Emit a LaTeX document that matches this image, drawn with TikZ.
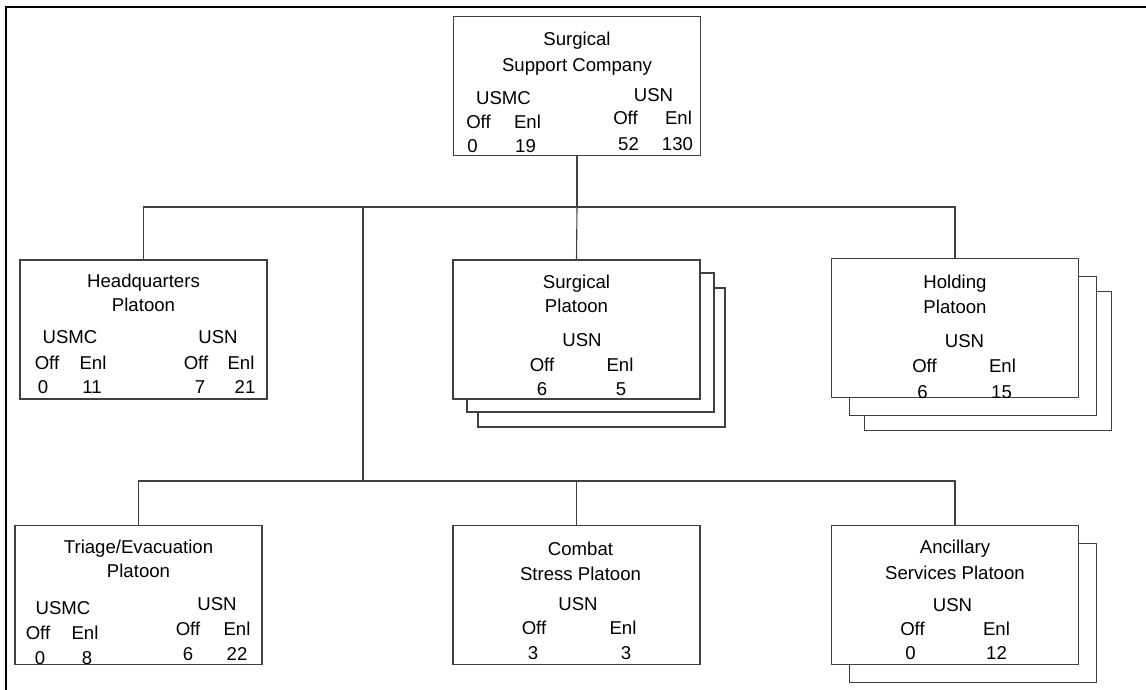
\documentclass[tikz,border=0pt]{standalone}
\usepackage{fontspec}
\setmainfont{Liberation Sans}
\usetikzlibrary{positioning, calc, backgrounds}

\begin{document}
\begin{tikzpicture}[
    x=0.5pt, y=-0.5pt,
    unit/.style={rectangle, draw=black!75, fill=white, line width=0.55pt, minimum width=123.5pt, minimum height=69.5pt, inner sep=0pt, outer sep=0pt},
    cell/.style={inner sep=0pt, text height=6.6pt, text depth=0pt, font=\fontsize{9.3}{11}\selectfont},
    link/.style={draw=black!75, line width=0.55pt},
    frame/.style={draw=black, line width=0.9pt}
]
    \useasboundingbox (0,0) rectangle (1146,690);
    \draw[frame] (6,690) -- (6,7) -- (1146,7);

    % Company
    \node [unit] (top) at (577,86) {};
    \node [cell] (top-t1) at ($(top.north)+(0,22)$) {Surgical};
    \node [cell] (top-t2) at ($(top.north)+(0,48)$) {Support Company};
    \foreach \dx/\dy/\txt [count=\i] in {50/81/USMC, 25/105/Off, 74/105/Enl, 19/129/0, 72/129/19, 200/78/USN, 172/101/Off, 225/101/Enl, 175/127/52, 224/127/130}
        \node [cell] (top-\i) at ($(top.north west)+(\dx,\dy)$) {\txt};

    % First row of platoons
    \node [unit] (hq) at (143.5,329.5) {};
    \node [cell] (hq-t1) at ($(hq.north)+(0,21)$) {Headquarters};
    \node [cell] (hq-t2) at ($(hq.north)+(0,45)$) {Platoon};
    \foreach \dx/\dy/\txt [count=\i] in {50/77/USMC, 27/103/Off, 73/103/Enl, 23/127/0, 72/127/11, 198/77/USN, 176/103/Off, 221/103/Enl, 180/127/7, 225/127/21}
        \node [cell] (hq-\i) at ($(hq.north west)+(\dx,\dy)$) {\txt};

    \node [unit] (surg) at (576.5,329.5) {};
    \node [cell] (surg-t1) at ($(surg.north)+(0,22)$) {Surgical};
    \node [cell] (surg-t2) at ($(surg.north)+(0,46)$) {Platoon};
    \foreach \dx/\dy/\txt [count=\i] in {129/80/USN, 89/105/Off, 167/105/Enl, 89/129/6, 168/129/5}
        \node [cell] (surg-\i) at ($(surg.north west)+(\dx,\dy)$) {\txt};

    \node [unit] (hold) at (955,328) {};
    \node [cell] (hold-t1) at ($(hold.north)+(0,23)$) {Holding};
    \node [cell] (hold-t2) at ($(hold.north)+(0,48)$) {Platoon};
    \foreach \dx/\dy/\txt [count=\i] in {133/82/USN, 93/107/Off, 171/107/Enl, 91/133/6, 170/133/15}
        \node [cell] (hold-\i) at ($(hold.north west)+(\dx,\dy)$) {\txt};

    % Second row of platoons
    \node [unit] (triage) at (138.5,595) {};
    \node [cell] (triage-t1) at ($(triage.north)+(0,21)$) {Triage/Evacuation};
    \node [cell] (triage-t2) at ($(triage.north)+(0,45)$) {Platoon};
    \foreach \dx/\dy/\txt [count=\i] in {48/82/USMC, 23/107/Off, 70/107/Enl, 25/132/0, 72/132/8, 202/78/USN, 173/103/Off, 222/103/Enl, 173/128/6, 222/128/22}
        \node [cell] (triage-\i) at ($(triage.north west)+(\dx,\dy)$) {\txt};

    \node [unit] (combat) at (576.5,595) {};
    \node [cell] (combat-t1) at ($(combat.north)+(4,23)$) {Combat};
    \node [cell] (combat-t2) at ($(combat.north)+(4,48)$) {Stress Platoon};
    \foreach \dx/\dy/\txt [count=\i] in {125/78/USN, 81/102/Off, 170/102/Enl, 80/127/3, 173/127/3}
        \node [cell] (combat-\i) at ($(combat.north west)+(\dx,\dy)$) {\txt};

    \node [unit] (ancil) at (955,595) {};
    \node [cell] (ancil-t1) at ($(ancil.north)+(0,21)$) {Ancillary};
    \node [cell] (ancil-t2) at ($(ancil.north)+(0,47)$) {Services Platoon};
    \foreach \dx/\dy/\txt [count=\i] in {121/79/USN, 81/103/Off, 165/103/Enl, 79/127/0, 165/127/12}
        \node [cell] (ancil-\i) at ($(ancil.north west)+(\dx,\dy)$) {\txt};

    % Stacked sheets behind
    \begin{scope}[on background layer]
        \node [unit] (surg-back2) at ($(surg)+(25,28)$) {};
        \node [unit] (surg-back1) at ($(surg)+(14,13)$) {};
        \node [unit] (hold-back2) at ($(hold)+(33,33)$) {};
        \node [unit] (hold-back1) at ($(hold)+(18,18)$) {};
        \node [unit] (ancil-back1) at ($(ancil)+(18,18)$) {};
    \end{scope}

    % Connections
    \coordinate (bus1) at (577,207);
    \coordinate (bus1-w) at (363,207);
    \coordinate (bus2-w) at (363,481);
    \draw [link] (top.south) -- (bus1);
    \draw [link] (hq.north) |- (bus1) -| (hold.north);
    \draw [link] (bus1) -- (surg.north);
    \draw [link] (bus1-w) -- (bus2-w);
    \draw [link] (triage.north) |- (bus2-w) -| (ancil.north);
    \draw [link] (combat.north) -- (combat.north |- bus2-w);
\end{tikzpicture}
\end{document}
